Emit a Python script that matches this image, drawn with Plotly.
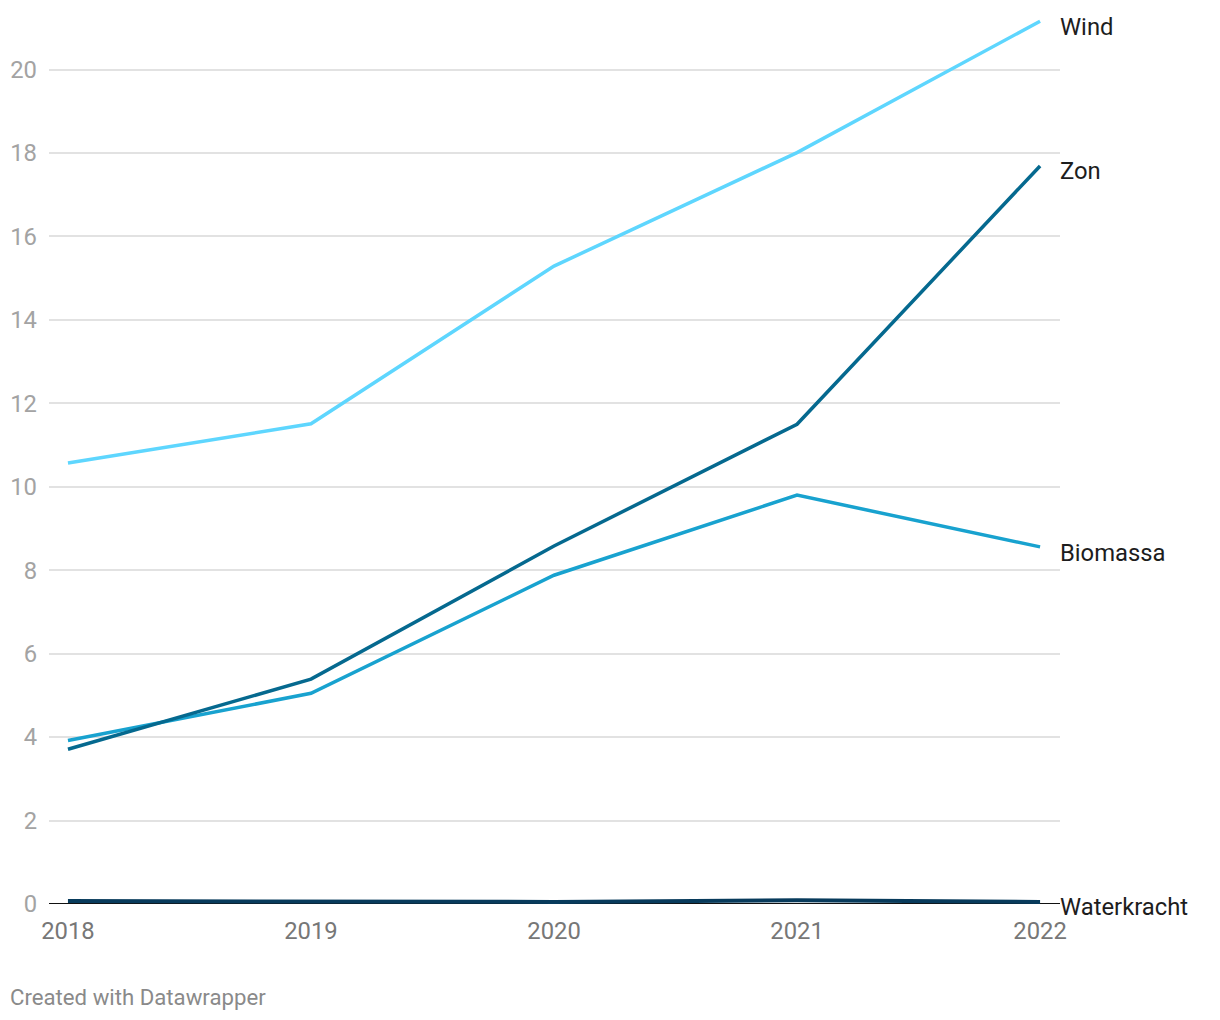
import plotly.graph_objects as go

years = [2018, 2019, 2020, 2021, 2022]
wind = [10.57, 11.51, 15.29, 18.01, 21.16]
zon = [3.71, 5.39, 8.58, 11.50, 17.69]
biomassa = [3.92, 5.05, 7.88, 9.80, 8.56]
waterkracht = [0.07, 0.07, 0.05, 0.09, 0.05]

series = [
    ("Wind", wind, "#5ed6fe", 3.5, -6),
    ("Zon", zon, "#05698f", 3.5, -5),
    ("Biomassa", biomassa, "#18a2cf", 3.5, -6),
    ("Waterkracht", waterkracht, "#083b5c", 4, -5),
]

fig = go.Figure()
fig.add_shape(type="line", xref="paper", yref="y", x0=0, x1=1, y0=0, y1=0,
              line=dict(color="#111111", width=2), layer="below")

for name, vals, color, w, ys in series[::-1]:
    fig.add_trace(go.Scatter(x=years, y=vals, mode="lines", name=name,
                             line=dict(color=color, width=w), showlegend=False))

for name, vals, color, w, ys in series:
    fig.add_annotation(x=1, xref="paper", y=vals[-1], yref="y", text=name,
                       showarrow=False, xanchor="left", yanchor="middle",
                       xshift=-2, yshift=ys,
                       font=dict(family="Roboto", size=23.8, color="#1d1d1d"))

fig.add_annotation(x=-49/1011, xref="paper", y=-93/897, yref="paper",
                   text="Created with Datawrapper", showarrow=False,
                   xanchor="left", yanchor="middle", xshift=8,
                   font=dict(family="Roboto", size=22.2, color="#8a8a8a"))

fig.update_layout(
    width=1220, height=1020,
    margin=dict(l=49, r=160, t=7, b=116),
    plot_bgcolor="white", paper_bgcolor="white",
    font=dict(family="Roboto"),
    xaxis=dict(range=[2017.922, 2022.082], tickvals=years,
               ticktext=[str(y) for y in years], showgrid=False,
               zeroline=False, showline=False,
               tickfont=dict(size=23.8, color="#777777"), ticks="",
               ticklabelstandoff=10),
    yaxis=dict(range=[0, 21.5], tickvals=list(range(0, 21, 2)),
               showgrid=True, gridcolor="#e2e2e2", gridwidth=1.5,
               zeroline=False, showline=False,
               tickfont=dict(size=23.8, color="#a3a3a3"), ticks="",
               ticklabelstandoff=11),
)

fig.write_html("out.html", config={"displayModeBar": False})
with open("out.html", "r", encoding="utf-8") as f:
    html = f.read()
html = html.replace("<body>", '<body style="margin:0;padding:0;overflow:hidden">', 1)
with open("out.html", "w", encoding="utf-8") as f:
    f.write(html)
